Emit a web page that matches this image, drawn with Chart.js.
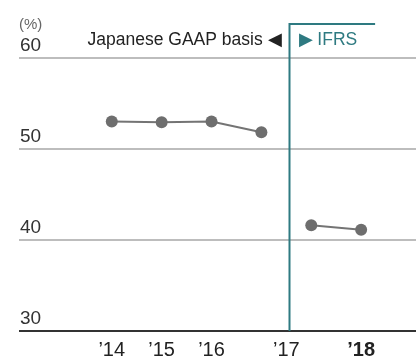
<!DOCTYPE html>
<html>
<head>
<meta charset="utf-8">
<script src="https://cdn.jsdelivr.net/npm/chart.js@4/dist/chart.umd.min.js"></script>
<style>
  html, body { margin: 0; padding: 0; background: #fff; }
  #wrap { width: 416px; height: 360px; position: relative; }
</style>
</head>
<body>
<div id="wrap"><canvas id="c"></canvas></div>
<script>
// Fiscal-year positions on the x axis (JGAAP '17 and IFRS '17 sit side by side)
const jgaapPos = [0, 1, 2, 3];
const jgaapValues = [53.0, 52.9, 53.0, 51.8];
const ifrsPos = [4, 5];
const ifrsValues = [41.6, 41.1];

const xTickPos = [0, 1, 2, 3.5, 5];
const xTickLabels = ['\u201914', '\u201915', '\u201916', '\u201917', '\u201918'];
const yTickValues = [30, 40, 50, 60];

const basisSplit = 3.55;        // where the accounting basis changes
const FONT = '"Liberation Sans", Arial, Helvetica, sans-serif';
const TEAL = '#2e7a81';

const toPoints = (xs, ys) => xs.map((x, i) => ({ x, y: ys[i] }));

const seriesStyle = {
  borderColor: '#747474',
  backgroundColor: '#6e6e6e',
  borderWidth: 2,
  pointRadius: 6,
  pointHoverRadius: 6,
  pointBorderWidth: 0,
  tension: 0
};

// Divider between the two accounting bases, with its captions and the unit label
const basisDivider = {
  id: 'basisDivider',
  afterDatasetsDraw(chart) {
    const { ctx, chartArea, scales: { x, y } } = chart;
    const px = Math.round(x.getPixelForValue(basisSplit)) + 0.5;
    const top = chartArea.top + 1;
    ctx.save();
    ctx.strokeStyle = TEAL;
    ctx.lineWidth = 2;
    ctx.beginPath();
    ctx.moveTo(px, chartArea.bottom);
    ctx.lineTo(px, top);
    ctx.lineTo(x.getPixelForValue(5.28), top);
    ctx.stroke();

    const ty = y.getPixelForValue(61.4);
    ctx.font = '17.5px ' + FONT;
    ctx.textBaseline = 'alphabetic';
    ctx.textAlign = 'right';
    ctx.fillStyle = '#222';
    ctx.fillText('Japanese GAAP basis \u25C0', px - 8, ty);
    ctx.textAlign = 'left';
    ctx.fillStyle = TEAL;
    ctx.fillText('\u25B6 IFRS', px + 9, ty);

    ctx.font = '15px ' + FONT;
    ctx.fillStyle = '#666';
    ctx.textBaseline = 'middle';
    ctx.fillText('(%)', chartArea.left, chartArea.top + 2);
    ctx.restore();
  }
};

new Chart(document.getElementById('c'), {
  type: 'line',
  data: {
    datasets: [
      Object.assign({ label: 'Japanese GAAP', data: toPoints(jgaapPos, jgaapValues) }, seriesStyle),
      Object.assign({ label: 'IFRS', data: toPoints(ifrsPos, ifrsValues) }, seriesStyle)
    ]
  },
  options: {
    responsive: true,
    maintainAspectRatio: false,
    animation: false,
    events: [],
    layout: { autoPadding: false, padding: { left: 17, right: 0, top: 23, bottom: 0 } },
    plugins: { legend: { display: false }, tooltip: { enabled: false } },
    scales: {
      x: {
        type: 'linear',
        min: -1.86,
        max: 6.1,
        afterBuildTicks: (scale) => { scale.ticks = xTickPos.map(v => ({ value: v })); },
        afterFit: (scale) => { scale.height = 29; },
        grid: { display: false, drawTicks: false },
        border: { display: false },
        ticks: {
          autoSkip: false,
          maxRotation: 0,
          padding: 7,
          color: '#222',
          callback: (v, i) => xTickLabels[i],
          font: (c) => ({ family: FONT, size: 20, weight: c.index === xTickLabels.length - 1 ? 'bold' : 'normal' })
        }
      },
      y: {
        min: 30,
        max: 63.8,
        afterBuildTicks: (scale) => { scale.ticks = yTickValues.map(v => ({ value: v })); },
        grid: {
          drawTicks: false,
          lineWidth: 2,
          color: (c) => c.tick && c.tick.value === 30 ? '#333' : '#bdbdbd'
        },
        border: { display: false },
        ticks: {
          mirror: true,
          padding: 1,
          labelOffset: -12,
          color: '#333',
          font: { family: FONT, size: 19 }
        }
      }
    }
  },
  plugins: [basisDivider]
});
</script>
</body>
</html>
